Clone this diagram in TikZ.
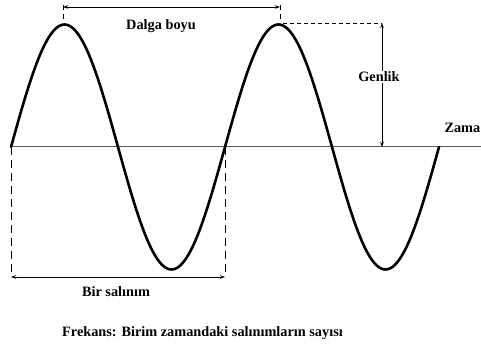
\documentclass[tikz,border=0pt]{standalone}
\usepackage{fontspec}
\setmainfont{Liberation Serif}
\usetikzlibrary{arrows.meta}
\begin{document}
\begin{tikzpicture}[x=1pt,y=1pt,
  lbl/.style={font=\fontsize{14.3}{17}\selectfont\bfseries,inner sep=0pt,anchor=base},
  dimarrow/.style={line width=0.8pt,{Stealth[length=5pt,width=3.5pt]}-{Stealth[length=5pt,width=3.5pt]}},
  dashln/.style={line width=0.8pt,dash pattern=on 4pt off 3pt},
  wave/.style={line width=2.6pt,line join=round,line cap=round},
  axis/.style={line width=1pt,black!65}]
\useasboundingbox (0,0) rectangle (481,344);
% key points
\coordinate (o) at (11,197);
\coordinate (z1) at (225,197);
\coordinate (p1) at (64.5,319.5);
\coordinate (p2) at (278.5,319.5);
\coordinate (axR) at (481,197);
% axis
\draw[axis] (o) -- (axR);
% wave
\draw[wave] plot[domain=0:428,samples=240,smooth] ({11+\x},{197+122.5*sin(\x/214*360)});
% Dalga boyu
\coordinate (t1a) at (63,339);
\coordinate (t1b) at (63,322);
\coordinate (t2a) at (280,339);
\coordinate (t2b) at (280,322);
\coordinate (d1) at (63,337);
\coordinate (d2) at (280,337);
\draw[line width=0.8pt,dash pattern=on 5pt off 4pt] (t1a) -- (t1b);
\draw[line width=0.8pt,dash pattern=on 5pt off 4pt] (t2a) -- (t2b);
\draw[dimarrow] (d1) -- (d2);
\node[lbl] (dalga) at (161,314.7) {Dalga boyu};
% Genlik
\coordinate (g1) at (382,321);
\coordinate (g0) at (382,197);
\coordinate (pk) at (283,321);
\draw[dashln] (pk) -- (g1);
\draw[dimarrow] (g1) -- (g0);
\node[lbl,fill=white,inner sep=1pt] (genlik) at (379,262.3) {Genlik};
% Zama
\node[lbl,anchor=base east] (zama) at (480.5,211.7) {Zama};
% Bir salinim
\coordinate (b1) at (11,67);
\coordinate (b2) at (225,67);
\draw[line width=0.8pt,dash pattern=on 8pt off 5pt] (o) -- (b1);
\draw[line width=0.8pt,dash pattern=on 8pt off 5pt] (z1) -- (b2);
\draw[dimarrow] (b1) -- (b2);
\node[lbl] (bir) at (116,47.3) {Bir salınım};
% Frekans
\node[lbl] (frekans) at (202.5,7.3) {Frekans: Birim zamandaki salınımların sayısı};
\end{tikzpicture}
\end{document}
